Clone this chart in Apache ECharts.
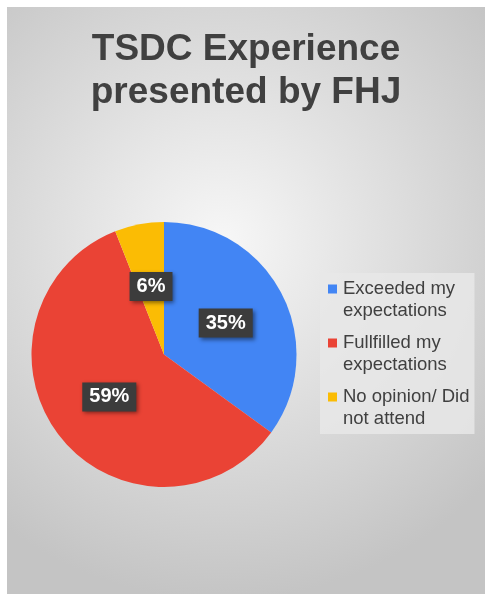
<!DOCTYPE html>
<html><head><meta charset="utf-8">
<script src="https://cdn.jsdelivr.net/npm/echarts@6/dist/echarts.min.js"></script>
<style>html,body{margin:0;padding:0;background:#fff;}#c{position:absolute;left:7px;top:7px;width:478px;height:587px;}</style>
</head><body><div id="c"></div>
<script>
const categories = ['Exceeded my expectations', 'Fullfilled my expectations', 'No opinion/ Did not attend'];
const legendLabels = ['Exceeded my\nexpectations', 'Fullfilled my\nexpectations', 'No opinion/ Did\nnot attend'];
const values = [35, 59, 6];
const colors = ['#4285F4', '#EA4335', '#FBBC04'];

const rich = {
  t: {fontFamily:'Liberation Sans, Arial', fontSize:18.5, color:'#404040', lineHeight:22, padding:[0,0,0,6]},
  s: {width:9, height:9}
};
colors.forEach((c,i)=>{ rich['m'+i] = {width:9, height:9, backgroundColor:c}; });

const chart = echarts.init(document.getElementById('c'));
chart.setOption({
  backgroundColor: {type:'radial', x:0.45, y:0.4, r:0.75, colorStops:[{offset:0,color:'#f7f7f7'},{offset:1,color:'#c4c4c4'}]},
  title: {
    text: 'TSDC Experience\npresented by FHJ',
    left: 'center', top: 16,
    textStyle: {fontFamily:'Liberation Sans, Arial', fontWeight:'bold', fontSize:37, color:'#404040', lineHeight:43}
  },
  legend: {
    orient:'vertical', left: 313, top: 266,
    backgroundColor:'rgba(232,232,232,0.85)', padding:[5,5,4,3],
    itemWidth:0, itemHeight:0, itemGap:10, icon:'rect',
    data: categories,
    formatter: function(n){
      const i = categories.indexOf(n);
      const lines = legendLabels[i].split('\n');
      return '{m'+i+'|}{t|'+lines[0]+'}\n{s|}{t|'+lines[1]+'}';
    },
    textStyle:{fontFamily:'Liberation Sans, Arial', fontSize:18.5, color:'#404040', lineHeight:22, rich: rich}
  },
  series: [{
    type:'pie', center:[157,347.5], radius:132.5, startAngle:90, clockwise:true,
    silent:true,
    data: categories.map((c,i)=>({name:c, value:values[i], itemStyle:{color:colors[i]}})),
    label:{
      position:'inside', formatter:'{d}%',
      fontFamily:'Liberation Sans, Arial', fontWeight:'bold', fontSize:20, lineHeight:20, color:'#fff',
      backgroundColor:'#3c3c3c', padding:[5,7,4,7],
      shadowColor:'rgba(0,0,0,0.45)', shadowBlur:4, shadowOffsetX:2, shadowOffsetY:2
    },
    labelLine:{show:false}
  }]
});
</script></body></html>
